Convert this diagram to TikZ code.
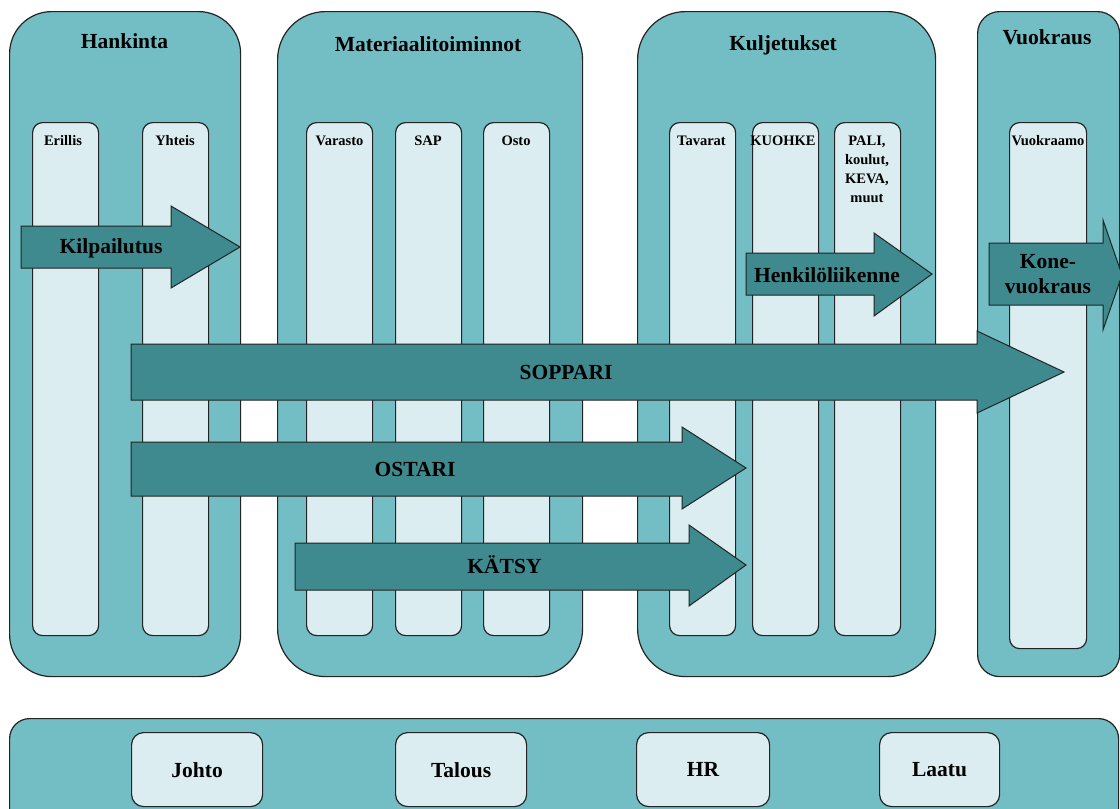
\documentclass[tikz,border=0pt]{standalone}
\usepackage{fontspec}
\setmainfont{Liberation Serif}
\definecolor{groupfill}{RGB}{115,190,196}
\definecolor{lanefill}{RGB}{219,237,240}
\definecolor{flowfill}{RGB}{62,138,143}
\definecolor{edge}{RGB}{35,35,35}
\begin{document}
\begin{tikzpicture}[x=1pt,y=-1pt,
  group/.style={draw=edge, line width=1.2pt, fill=groupfill, anchor=north west, inner sep=0pt},
  lane/.style={draw=edge, line width=1.2pt, fill=lanefill, rounded corners=10pt, anchor=north west,
    inner sep=0pt, minimum width=66pt, minimum height=513pt},
  unit/.style={draw=edge, line width=1.2pt, fill=lanefill, rounded corners=12pt, anchor=north west,
    inner sep=0pt, minimum height=74pt, text depth=0pt,
    font=\fontsize{21.5}{24}\selectfont\bfseries},
  flow/.style={draw=edge, line width=1pt, fill=flowfill},
  bigtxt/.style={inner sep=0pt, anchor=base, font=\fontsize{21.5}{24}\selectfont\bfseries},
  lanetxt/.style={inner sep=0pt, anchor=base, font=\fontsize{14.5}{19}\selectfont\bfseries}]

\useasboundingbox (0,0) rectangle (1120,809);
\clip (0,0) rectangle (1120,809);

% main function groups
\node[group, rounded corners=42pt, minimum width=231pt, minimum height=665pt] (hankinta) at (9,11) {};
\node[group, rounded corners=48pt, minimum width=305pt, minimum height=665pt] (materiaali) at (277,11) {};
\node[group, rounded corners=48pt, minimum width=298pt, minimum height=665pt] (kuljetukset) at (637,11) {};
\node[group, rounded corners=22pt, minimum width=142pt, minimum height=665pt] (vuokraus) at (977,11) {};

\node[bigtxt] (hankintaT) at (124.5,48) {Hankinta};
\node[bigtxt] (materiaaliT) at (428,51) {Materiaalitoiminnot};
\node[bigtxt] (kuljetuksetT) at (783,50) {Kuljetukset};
\node[bigtxt] (vuokrausT) at (1047,44) {Vuokraus};

% lanes inside the groups
\node[lane] (erillis) at (32,122) {};
\node[lane] (yhteis) at (142,122) {};
\node[lane] (varasto) at (306,122) {};
\node[lane] (sap) at (395,122) {};
\node[lane] (osto) at (483,122) {};
\node[lane] (tavarat) at (669,122) {};
\node[lane] (kuohke) at (752,122) {};
\node[lane] (pali) at (834,122) {};
\node[lane, minimum width=77pt, minimum height=526pt] (vuokraamo) at (1009,122) {};

\node[lanetxt] (erillisT) at (63,145) {Erillis};
\node[lanetxt] (yhteisT) at (175,145) {Yhteis};
\node[lanetxt] (varastoT) at (339.5,145) {Varasto};
\node[lanetxt] (sapT) at (428,145) {SAP};
\node[lanetxt] (ostoT) at (516,145) {Osto};
\node[lanetxt] (tavaratT) at (701.5,145) {Tavarat};
\node[lanetxt] (kuohkeT) at (783,145) {KUOHKE};
\node[lanetxt, anchor=north, align=center] (paliT) at (867,135.4) {PALI,\\koulut,\\KEVA,\\muut};
\node[lanetxt] (vuokraamoT) at (1048,145) {Vuokraamo};

% support functions
\node[group, rounded corners=20pt, minimum width=1109pt, minimum height=110pt] (tuki) at (9,718) {};
\node[unit, minimum width=131pt] (johto) at (131,732) {Johto};
\node[unit, minimum width=131pt] (talous) at (395,732) {Talous};
\node[unit, minimum width=133pt] (hr) at (636,732) {HR};
\node[unit, minimum width=120pt] (laatu) at (879,732) {Laatu};

% process flows
\draw[flow] (21,226) -- (171,226) -- (171,206) -- (240,247) -- (171,288) -- (171,268) -- (21,268) -- cycle;
\node[bigtxt] (kilpailutus) at (111,253) {Kilpailutus};

\draw[flow] (746,253) -- (874,253) -- (874,233) -- (932,274) -- (874,316) -- (874,295) -- (746,295) -- cycle;
\node[bigtxt] (henkilo) at (827,282) {Henkilöliikenne};

\draw[flow] (989,243) -- (1103,243) -- (1103,220) -- (1122,275) -- (1103,330) -- (1103,305) -- (989,305) -- cycle;
\node[bigtxt, anchor=north, align=center, font=\fontsize{21.5}{25}\selectfont\bfseries] (konevuokraus) at (1048,254) {Kone-\\vuokraus};

\draw[flow] (131,344) -- (977,344) -- (977,331) -- (1064,372) -- (977,413) -- (977,400) -- (131,400) -- cycle;
\node[bigtxt] (soppari) at (566,379) {SOPPARI};

\draw[flow] (131,442) -- (682,442) -- (682,427) -- (746,468) -- (682,509) -- (682,496) -- (131,496) -- cycle;
\node[bigtxt] (ostari) at (415,476) {OSTARI};

\draw[flow] (295,543) -- (689,543) -- (689,525) -- (746,565) -- (689,606) -- (689,590) -- (295,590) -- cycle;
\node[bigtxt] (katsy) at (504.5,573) {KÄTSY};

\end{tikzpicture}
\end{document}
